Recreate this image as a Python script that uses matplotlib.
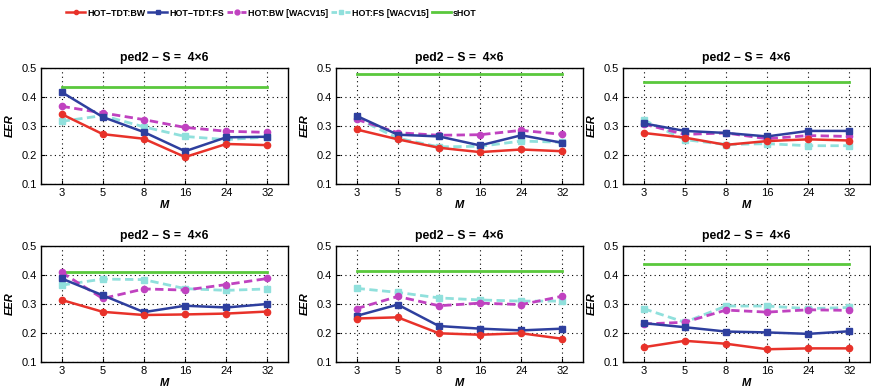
import matplotlib
matplotlib.use("Agg")
import matplotlib.pyplot as plt
from matplotlib.lines import Line2D
from matplotlib import font_manager

plt.rcParams['font.family'] = ['Liberation Sans', 'DejaVu Sans']

m_values = ["3", "5", "8", "16", "24", "32"]
title_text = "ped2 \u2212 S =  4\u00d76"

series_names = ["HOT\u2212TDT:BW", "HOT\u2212TDT:FS", "HOT:BW [WACV15]", "HOT:FS [WACV15]", "sHOT"]

# EER per panel (row-major order), one list per method
tdt_bw = [
    [0.341, 0.272, 0.256, 0.193, 0.238, 0.234],
    [0.288, 0.254, 0.225, 0.210, 0.219, 0.213],
    [0.276, 0.260, 0.235, 0.248, 0.254, 0.250],
    [0.314, 0.273, 0.262, 0.264, 0.267, 0.274],
    [0.250, 0.254, 0.199, 0.194, 0.199, 0.180],
    [0.151, 0.173, 0.163, 0.144, 0.147, 0.147],
]
tdt_fs = [
    [0.417, 0.331, 0.279, 0.213, 0.261, 0.263],
    [0.335, 0.270, 0.264, 0.233, 0.268, 0.242],
    [0.309, 0.283, 0.276, 0.264, 0.283, 0.283],
    [0.388, 0.330, 0.272, 0.294, 0.288, 0.300],
    [0.259, 0.298, 0.224, 0.215, 0.209, 0.215],
    [0.234, 0.220, 0.205, 0.202, 0.197, 0.206],
]
hot_bw = [
    [0.368, 0.345, 0.322, 0.295, 0.282, 0.278],
    [0.323, 0.277, 0.268, 0.270, 0.285, 0.271],
    [0.307, 0.271, 0.276, 0.256, 0.267, 0.264],
    [0.409, 0.319, 0.352, 0.348, 0.367, 0.388],
    [0.284, 0.326, 0.294, 0.303, 0.298, 0.327],
    [0.231, 0.237, 0.279, 0.272, 0.280, 0.278],
]
hot_fs = [
    [0.316, 0.336, 0.297, 0.264, 0.253, 0.262],
    [0.327, 0.258, 0.228, 0.230, 0.248, 0.244],
    [0.321, 0.253, 0.236, 0.239, 0.232, 0.232],
    [0.365, 0.386, 0.384, 0.353, 0.347, 0.352],
    [0.354, 0.340, 0.321, 0.314, 0.310, 0.310],
    [0.284, 0.237, 0.293, 0.293, 0.284, 0.288],
]
shot = [0.433, 0.480, 0.453, 0.412, 0.413, 0.438]

c_red = "#e8322a"
c_blue = "#2e3f9e"
c_mag = "#c042c0"
c_cyan = "#90e0dc"
c_green = "#5ac83c"

W, H = 871, 392
fig = plt.figure(figsize=(W / 100, H / 100), dpi=100)

lefts = [41, 336, 623]
tops = [68, 246]
aw, ah = 247, 116

dash = (0, (3, 1.6))
x = list(range(len(m_values)))
for i in range(6):
    r, c = divmod(i, 3)
    ax = fig.add_axes([lefts[c] / W, 1 - (tops[r] + ah) / H, aw / W, ah / H])
    ax.plot([x[0], x[-1]], [shot[i], shot[i]], color=c_green, lw=2.0, zorder=3)
    ax.plot(x, hot_fs[i], color=c_cyan, lw=2.0, ls=dash, marker='s', ms=5, zorder=4)
    ax.plot(x, hot_bw[i], color=c_mag, lw=2.0, ls=dash, marker='o', ms=4.5, zorder=5)
    ax.plot(x, tdt_fs[i], color=c_blue, lw=1.8, marker='s', ms=5, zorder=6)
    ax.plot(x, tdt_bw[i], color=c_red, lw=1.8, marker='o', ms=4.5, zorder=7)
    ax.set_xlim(-0.5, 5.5)
    ax.set_ylim(0.1, 0.5)
    ax.set_xticks(x)
    ax.set_xticklabels(m_values)
    ax.set_yticks([0.1, 0.2, 0.3, 0.4, 0.5])
    ax.set_yticklabels(["0.1", "0.2", "0.3", "0.4", "0.5"])
    ax.tick_params(direction='in', length=3, width=0.8, labelsize=8, pad=3, colors='black')
    ax.grid(True, color='black', ls=(0, (1, 3)), lw=0.8)
    for s in ax.spines.values():
        s.set_linewidth(1.0)
    ax.set_title(title_text, fontsize=8.7, fontweight='bold', pad=5)
    ax.set_xlabel("M", fontsize=8, fontweight='bold', style='italic', labelpad=1)
    ax.set_ylabel("EER", fontsize=8, fontweight='bold', style='italic', labelpad=5)

legend_handles = [
    Line2D([], [], color=c_red, lw=1.8, marker='o', ms=3),
    Line2D([], [], color=c_blue, lw=1.8, marker='s', ms=3.5),
    Line2D([], [], color=c_mag, lw=2.0, ls=(0, (2, 3)), marker='o', ms=3.5),
    Line2D([], [], color=c_cyan, lw=2.0, ls=(0, (2, 3)), marker='s', ms=3.5),
    Line2D([], [], color=c_green, lw=2.0),
]
names = {f.name for f in font_manager.fontManager.ttflist}
if 'Liberation Sans Narrow' in names:
    leg_font = {'family': 'Liberation Sans Narrow', 'weight': 'bold', 'size': 7.5}
else:
    leg_font = {'family': 'Liberation Sans', 'weight': 'bold', 'size': 6.4}
fig.legend(legend_handles, series_names, loc='center', bbox_to_anchor=(271.5 / W, 1 - 13 / H),
           ncol=5, frameon=False, handlelength=2.1, handletextpad=0.25, columnspacing=0.35,
           prop=leg_font)

fig.savefig("out.png", dpi=100)
